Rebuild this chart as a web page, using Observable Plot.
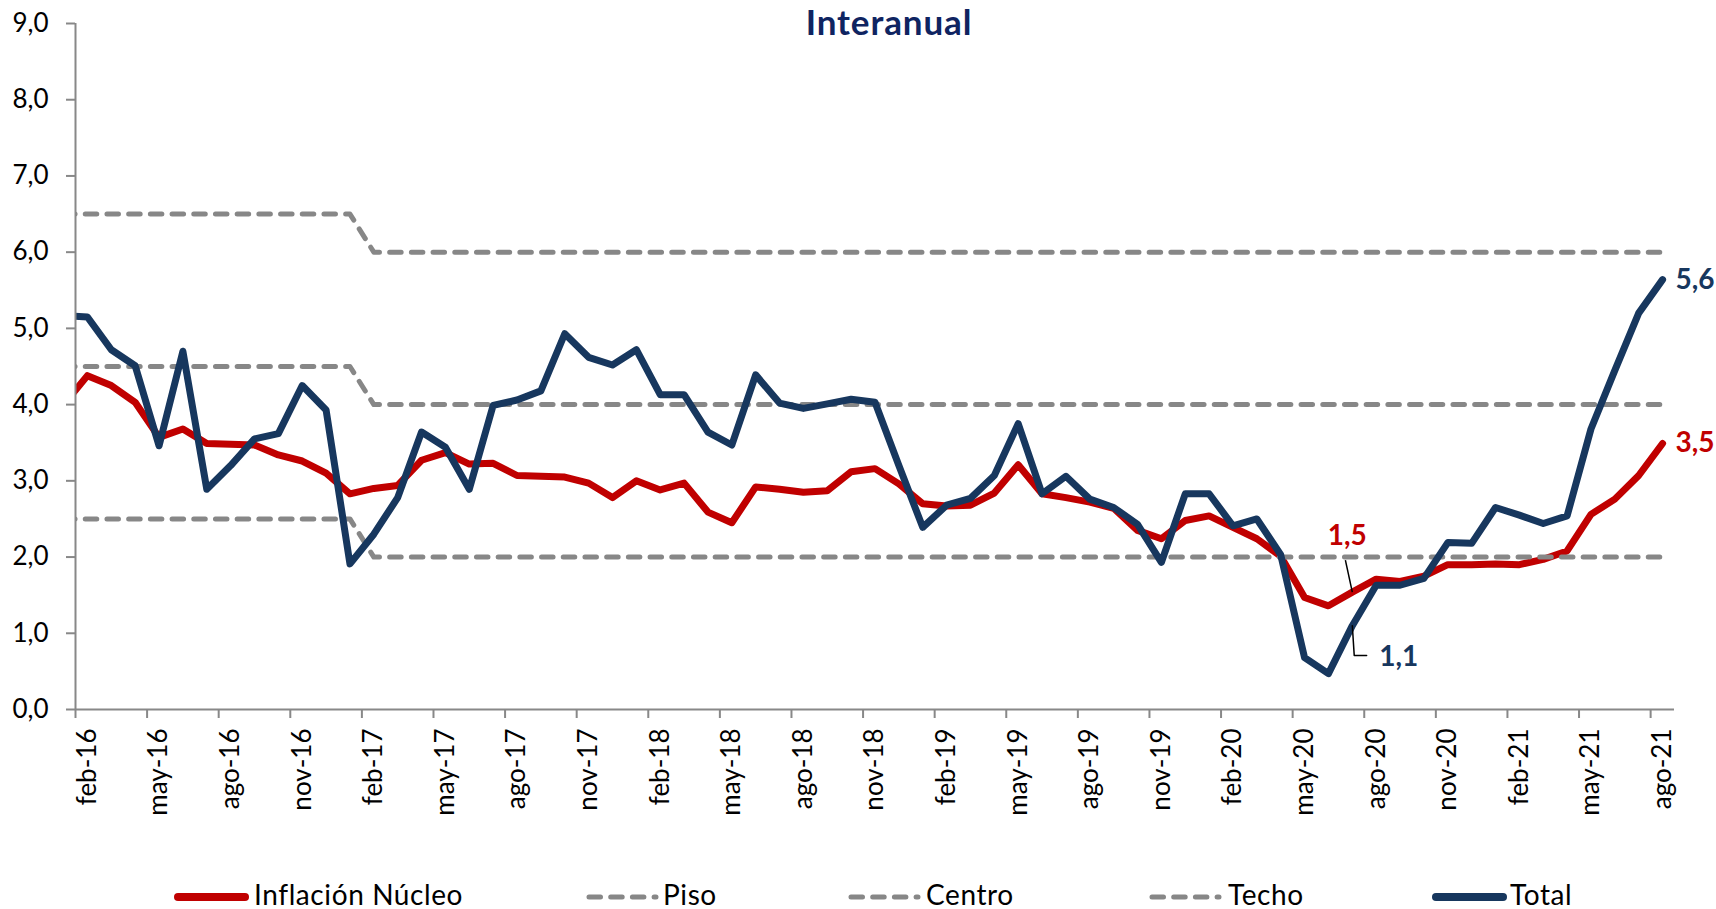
<!DOCTYPE html>
<html>
<head>
<meta charset="utf-8">
<script src="https://cdn.jsdelivr.net/npm/d3@7"></script>
<script src="https://cdn.jsdelivr.net/npm/@observablehq/plot@0.6"></script>
<style>
  html, body { margin: 0; padding: 0; background: #fff; overflow: hidden; }
  #wrap { position: relative; width: 1716px; height: 909px; font-family: Lato, "Open Sans", sans-serif; }
  #title { position: absolute; top: 0; left: 889px; transform: translateX(-50%); font-size: 35px; line-height: 42px; letter-spacing: 0.9px; font-weight: 700; color: #0f2461; white-space: nowrap; }
  #chart { position: absolute; top: 0; left: 0; }
  .leg { position: absolute; top: 0; left: 0; }
  .legtext { position: absolute; font-size: 28px; line-height: 28px; letter-spacing: 0.6px; color: #000; white-space: nowrap; }
</style>
</head>
<body>
<div id="wrap">
  <div id="chart"></div>
  <div id="title">Interanual</div>
  <div id="legend"></div>
</div>
<script>
// ---- categories (monthly) ----
const months = [
  "ene-16","feb-16","mar-16","abr-16","may-16","jun-16","jul-16","ago-16","sep-16","oct-16","nov-16","dic-16",
  "ene-17","feb-17","mar-17","abr-17","may-17","jun-17","jul-17","ago-17","sep-17","oct-17","nov-17","dic-17",
  "ene-18","feb-18","mar-18","abr-18","may-18","jun-18","jul-18","ago-18","sep-18","oct-18","nov-18","dic-18",
  "ene-19","feb-19","mar-19","abr-19","may-19","jun-19","jul-19","ago-19","sep-19","oct-19","nov-19","dic-19",
  "ene-20","feb-20","mar-20","abr-20","may-20","jun-20","jul-20","ago-20","sep-20","oct-20","nov-20","dic-20",
  "ene-21","feb-21","mar-21","abr-21","may-21","jun-21","jul-21","ago-21"
];
const tickLabels = ["feb-16","may-16","ago-16","nov-16","feb-17","may-17","ago-17","nov-17","feb-18","may-18","ago-18","nov-18",
  "feb-19","may-19","ago-19","nov-19","feb-20","may-20","ago-20","nov-20","feb-21","may-21","ago-21"];
const yTicks = [0,1,2,3,4,5,6,7,8,9];

// ---- series ----
const total = [
  5.17,5.15,4.72,4.51,3.46,4.70,2.89,3.20,3.55,3.62,4.25,3.93,
  1.91,2.30,2.78,3.64,3.44,2.89,3.99,4.06,4.18,4.93,4.62,4.52,
  4.72,4.13,4.13,3.64,3.47,4.39,4.02,3.95,4.01,4.07,4.03,3.20,
  2.39,2.68,2.77,3.07,3.75,2.83,3.06,2.76,2.65,2.43,1.93,2.83,
  2.83,2.41,2.50,2.03,0.68,0.47,1.10,1.63,1.63,1.72,2.19,2.18,
  2.65,2.55,2.44,2.54,3.68,4.45,5.20,5.64
];
const nucleo = [
  4.00,4.38,4.25,4.03,3.57,3.68,3.49,3.48,3.47,3.34,3.26,3.10,
  2.83,2.90,2.94,3.27,3.37,3.22,3.23,3.07,3.06,3.05,2.97,2.78,
  3.00,2.88,2.97,2.59,2.45,2.92,2.89,2.85,2.87,3.12,3.16,2.96,
  2.70,2.67,2.68,2.84,3.21,2.83,2.78,2.72,2.64,2.35,2.24,2.48,
  2.54,2.39,2.24,2.01,1.47,1.36,1.54,1.71,1.68,1.75,1.90,1.90,
  1.91,1.90,1.97,2.08,2.56,2.76,3.07,3.49
];
const piso = [
  2.5,2.5,2.5,2.5,2.5,2.5,2.5,2.5,2.5,2.5,2.5,2.5,
  2.5,2,2,2,2,2,2,2,2,2,2,2,
  2,2,2,2,2,2,2,2,2,2,2,2,
  2,2,2,2,2,2,2,2,2,2,2,2,
  2,2,2,2,2,2,2,2,2,2,2,2,
  2,2,2,2,2,2,2,2
];
const centro = [
  4.5,4.5,4.5,4.5,4.5,4.5,4.5,4.5,4.5,4.5,4.5,4.5,
  4.5,4,4,4,4,4,4,4,4,4,4,4,
  4,4,4,4,4,4,4,4,4,4,4,4,
  4,4,4,4,4,4,4,4,4,4,4,4,
  4,4,4,4,4,4,4,4,4,4,4,4,
  4,4,4,4,4,4,4,4
];
const techo = [
  6.5,6.5,6.5,6.5,6.5,6.5,6.5,6.5,6.5,6.5,6.5,6.5,
  6.5,6,6,6,6,6,6,6,6,6,6,6,
  6,6,6,6,6,6,6,6,6,6,6,6,
  6,6,6,6,6,6,6,6,6,6,6,6,
  6,6,6,6,6,6,6,6,6,6,6,6,
  6,6,6,6,6,6,6,6
];
const seriesNames = ["Inflación Núcleo","Piso","Centro","Techo","Total"];

// ---- styles ----
const RED = "#C00000", NAVY = "#17375E", GRAY = "#878787", AXIS = "#888888";
const fmt = v => v.toFixed(1).replace(".", ",");

const rows = months.map((m, k) => ({k, m, total: total[k], nucleo: nucleo[k], piso: piso[k], centro: centro[k], techo: techo[k]}));
const labelPos = tickLabels.map(l => months.indexOf(l));
const tickPos = labelPos.map(k => k - 0.5);

const dash = {stroke: GRAY, strokeWidth: 5, strokeDasharray: "11.5,10.2", strokeLinecap: "round", clip: true};
const solid = {strokeWidth: 7, strokeLinecap: "round", strokeLinejoin: "round", clip: true};

const kLast = months.length - 1;
const kLow = months.indexOf("jul-20");

const chart = Plot.plot({
  width: 1716,
  height: 860,
  marginLeft: 75,
  marginRight: 42,
  marginTop: 23,
  marginBottom: 151,
  x: {domain: [0.5, kLast + 0.5], label: null},
  y: {domain: [0, 9], label: null},
  style: {fontFamily: "Lato, 'Open Sans', sans-serif", fontSize: "26px", color: "#000", background: "transparent", overflow: "visible"},
  marks: [
    Plot.line(rows, {x: "k", y: "nucleo", stroke: RED, ...solid}),
    Plot.line(rows, {x: "k", y: "piso", ...dash}),
    Plot.line(rows, {x: "k", y: "centro", ...dash}),
    Plot.line(rows, {x: "k", y: "techo", ...dash}),
    Plot.line(rows, {x: "k", y: "total", stroke: NAVY, ...solid}),
    Plot.ruleY([0], {stroke: AXIS, strokeWidth: 2}),
    Plot.ruleX([0.5], {stroke: AXIS, strokeWidth: 2}),
    Plot.axisY({ticks: yTicks, tickFormat: fmt, tickSize: 9, tickPadding: 18, stroke: AXIS, strokeWidth: 2, fill: "#000", fontSize: 26, label: null}),
    Plot.axisX({ticks: tickPos, tickSize: 9, tickFormat: () => "", stroke: AXIS, strokeWidth: 2, label: null}),
    Plot.axisX({ticks: labelPos, tickFormat: k => months[k], tickSize: 0, tickPadding: 19, tickRotate: -90, fill: "#000", fontSize: 26, label: null}),
    // end labels
    Plot.text([kLast], {x: d => d, y: d => total[d], text: d => fmt(total[d]), dx: 13, textAnchor: "start", fill: NAVY, fontWeight: "bold", fontSize: 28}),
    Plot.text([kLast], {x: d => d, y: d => nucleo[d], text: d => fmt(nucleo[d]), dx: 13, textAnchor: "start", fill: RED, fontWeight: "bold", fontSize: 28}),
    // low-point callouts
    Plot.link([kLow], {x1: d => d, y1: d => nucleo[d], x2: d => d - 0.29, y2: d => nucleo[d] + 0.42, stroke: "#000", strokeWidth: 1.5}),
    Plot.text([kLow], {x: d => d, y: d => nucleo[d], text: d => fmt(nucleo[d]), dx: -5, dy: -56, textAnchor: "middle", fill: RED, fontWeight: "bold", fontSize: 28}),
    Plot.line([[kLow, total[kLow]], [kLow + 0.08, total[kLow] - 0.39], [kLow + 0.6, total[kLow] - 0.39]], {stroke: "#000", strokeWidth: 1.5}),
    Plot.text([kLow], {x: d => d, y: d => total[d], text: d => fmt(total[d]), dx: 27, dy: 31, textAnchor: "start", fill: NAVY, fontWeight: "bold", fontSize: 28})
  ]
});
document.getElementById("chart").appendChild(chart);

// ---- legend (below the SVG) ----
const legendStyle = [
  {type: "solid", color: RED},
  {type: "dash", color: GRAY},
  {type: "dash", color: GRAY},
  {type: "dash", color: GRAY},
  {type: "solid", color: NAVY}
];
const legendX = [[175, 254], [586, 663], [848, 926], [1149, 1228], [1433, 1510]];
const legY = 897;
const leg = document.getElementById("legend");
const ns = "http://www.w3.org/2000/svg";
const lsvg = document.createElementNS(ns, "svg");
lsvg.setAttribute("class", "leg");
lsvg.setAttribute("width", 1716);
lsvg.setAttribute("height", 909);
lsvg.style.pointerEvents = "none";
seriesNames.forEach((name, j) => {
  const st = legendStyle[j];
  const [sx, tx] = legendX[j];
  const ln = document.createElementNS(ns, "line");
  ln.setAttribute("x1", sx + 3);
  ln.setAttribute("x2", sx + 70);
  ln.setAttribute("y1", legY);
  ln.setAttribute("y2", legY);
  ln.setAttribute("stroke", st.color);
  ln.setAttribute("stroke-linecap", "round");
  if (st.type === "solid") {
    ln.setAttribute("stroke-width", 8);
  } else {
    ln.setAttribute("stroke-width", 5);
    ln.setAttribute("stroke-dasharray", "11.5,10.2");
  }
  lsvg.appendChild(ln);
  const t = document.createElement("div");
  t.className = "legtext";
  t.textContent = name;
  t.style.left = tx + "px";
  t.style.top = "880px";
  leg.appendChild(t);
});
leg.appendChild(lsvg);
</script>
</body>
</html>
